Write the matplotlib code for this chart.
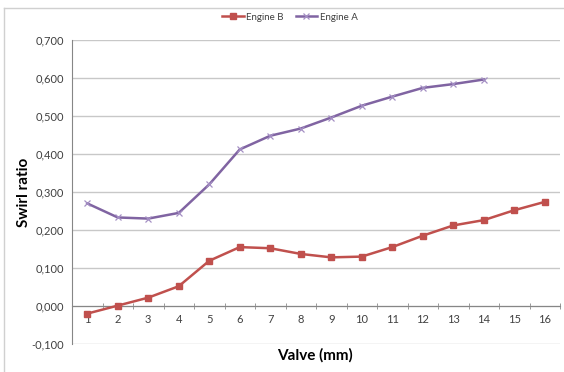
import matplotlib
matplotlib.use("Agg")
from matplotlib import pyplot as plt
from matplotlib.lines import Line2D
from matplotlib.ticker import FuncFormatter, MultipleLocator

valve_b = list(range(1, 17))
engine_b = [-0.020, 0.001, 0.022, 0.052, 0.119, 0.155, 0.152, 0.137,
            0.128, 0.130, 0.155, 0.185, 0.212, 0.226, 0.252, 0.274]
valve_a = list(range(1, 15))
engine_a = [0.270, 0.233, 0.230, 0.245, 0.320, 0.412, 0.448, 0.467,
            0.496, 0.527, 0.551, 0.574, 0.584, 0.596]

red = '#C0504D'
purple = '#8064A2'
grey = '#868686'
txt = '#404040'

plt.rcParams['font.family'] = ['Lato', 'DejaVu Sans']

fig = plt.figure(figsize=(5.64, 3.72), dpi=100)
ax = fig.add_axes([72/564, 1-344/372, 488/564, 304/372])

# outer chart border (top and left visible)
fig.add_artist(Line2D([4/564, 1.0], [1-8/372, 1-8/372], color='#D0D0D0', lw=1.0))
fig.add_artist(Line2D([4/564, 4/564], [0.0, 1-8/372], color='#D0D0D0', lw=1.0))

ax.plot(valve_b, engine_b, color=red, lw=1.8, marker='s', ms=4,
        mec=red, mfc=red, label='Engine B', zorder=4)
ax.plot(valve_a, engine_a, color=purple, lw=1.8, marker='x', ms=4,
        mew=0.9, mec='#A48FC4', label='Engine A', zorder=4)

ax.set_xlim(0.5, 16.5)
ax.set_ylim(-0.1, 0.7)
ax.yaxis.set_major_locator(MultipleLocator(0.1))
ax.yaxis.set_major_formatter(FuncFormatter(lambda v, p: f'{v:.3f}'.replace('.', ',')))
ax.grid(axis='y', color='#C8C8C8', lw=1.0)
ax.set_axisbelow(True)

ax.set_xticks(valve_b)
ax.set_xticks([v + 0.5 for v in range(0, 17)], minor=True)
ax.tick_params(axis='x', which='major', length=0, labelsize=8, labelcolor=txt, pad=6)
ax.tick_params(axis='x', which='minor', length=4, direction='inout', color=grey)
ax.tick_params(axis='y', length=0, labelsize=8, labelcolor=txt, pad=6)

for s in ['top', 'right']:
    ax.spines[s].set_visible(False)
ax.spines['bottom'].set_position(('data', 0))
ax.spines['bottom'].set_color(grey)
ax.spines['left'].set_color(grey)

ax.set_ylabel('Swirl ratio', fontsize=11, fontweight='bold', color='black')
ax.yaxis.set_label_coords(-0.084, 0.5)
fig.text(315/564, 1-355/372, 'Valve (mm)', fontsize=11, fontweight='bold',
         ha='center', va='center')

fig.legend(loc='center', bbox_to_anchor=(290/564, 1-17/372), ncol=2, frameon=False,
           fontsize=7, handlelength=2.2, handletextpad=0.3, columnspacing=1.2,
           labelcolor=txt)

fig.savefig('out.png', dpi=100)
